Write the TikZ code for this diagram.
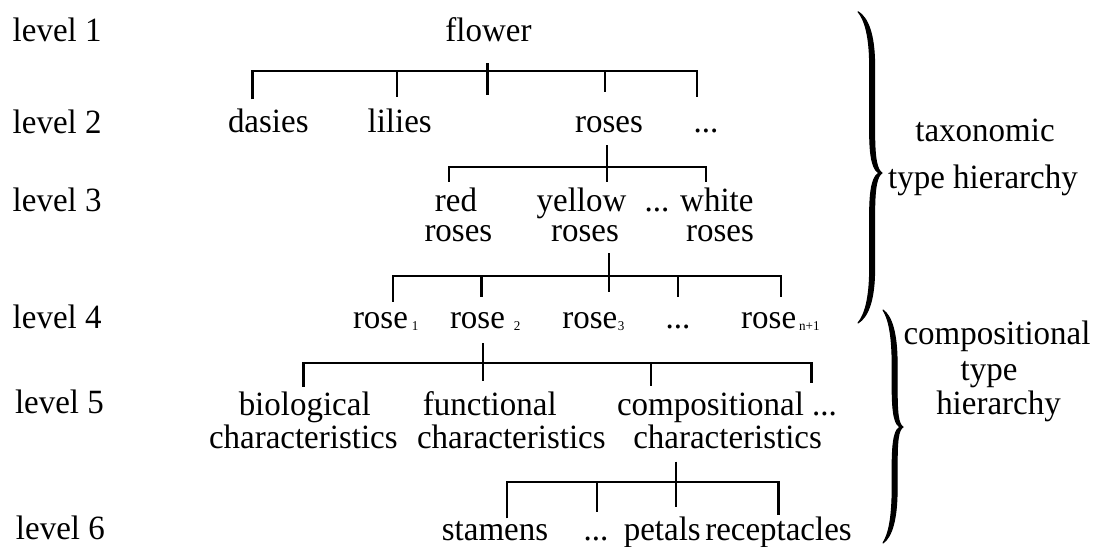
\documentclass[tikz,border=0pt]{standalone}
\usepackage{fontspec}
\setmainfont{Liberation Serif}[FakeStretch=0.97]

% right curly brace as a filled, tapered outline
% #1 end x, #2 top y, #3 tip y, #4 bottom y, #5 body offset, #6 tip offset
\newcommand\rbr[6]{%
  \filldraw[bracefill]
  (#1,#2)
  .. controls ({#1+0.55*#5+2},{#2+6}) and ({#1+#5+2.6},{#2+22}) .. ({#1+#5+2.6},{#2+55})
  -- ({#1+#5+2.6},{#3-40})
  .. controls ({#1+#5+2.6},{#3-14}) and ({#1+#6-5},{#3-3}) .. ({#1+#6},{#3})
  .. controls ({#1+#6-5},{#3+3}) and ({#1+#5+2.6},{#3+14}) .. ({#1+#5+2.6},{#3+40})
  -- ({#1+#5+2.6},{#4-55})
  .. controls ({#1+#5+2.6},{#4-22}) and ({#1+0.55*#5+2},{#4-6}) .. (#1,#4)
  .. controls ({#1+0.55*#5-1},{#4-8}) and ({#1+#5-2.3},{#4-24}) .. ({#1+#5-2.3},{#4-55})
  -- ({#1+#5-2.3},{#3+40})
  .. controls ({#1+#5-2.3},{#3+12}) and ({#1+#6-8},{#3+1}) .. ({#1+#6-2},{#3})
  .. controls ({#1+#6-8},{#3-1}) and ({#1+#5-2.3},{#3-12}) .. ({#1+#5-2.3},{#3-40})
  -- ({#1+#5-2.3},{#2+55})
  .. controls ({#1+#5-2.3},{#2+24}) and ({#1+0.55*#5-1},{#2+8}) .. (#1,#2) -- cycle;}

\begin{document}
\begin{tikzpicture}[x=1pt,y=-1pt,
  lbl/.style={inner sep=0pt, outer sep=0pt, anchor=base,
              text height=23pt, text depth=6.5pt,
              font=\fontsize{34}{40}\selectfont},
  lvl/.style={lbl, anchor=base west},
  link/.style={line width=2.4pt, line join=miter},
  bracefill/.style={fill=black, draw=black, line width=1.1pt, line join=round}]
\useasboundingbox (0,0) rectangle (1094,546);

\newcommand\sub[1]{\raisebox{-1.7pt}{\fontsize{13.5}{14}\selectfont #1}}

% level captions
\node[lvl] (lv1) at (12.7,41.7)  {level 1};
\node[lvl] (lv2) at (12.7,133)   {level 2};
\node[lvl] (lv3) at (12.7,211.7) {level 3};
\node[lvl] (lv4) at (12.7,328)   {level 4};
\node[lvl] (lv5) at (15,413)     {level 5};
\node[lvl] (lv6) at (16,539.7)   {level 6};

% level 1
\node[lbl] (flower) at (488.5,41.7) {flower};

% level 2
\node[lbl] (dasies) at (268.3,132.5) {dasies};
\node[lbl] (lilies) at (399.7,132.5) {lilies};
\node[lbl] (roses)  at (609,132.5)   {roses};
\node[lbl] (dots2)  at (706,132.5)   {...};

% level 3
\node[lbl] (redA)    at (456,211.7)   {red};
\node[lbl] (redB)    at (458.4,241.7) {roses};
\node[lbl] (yellowA) at (581.5,211.7) {yellow};
\node[lbl] (yellowB) at (585,241.7)   {roses};
\node[lbl] (whiteA)  at (699,211.7)   {... white};
\node[lbl] (whiteB)  at (720,241.7)   {roses};

% level 4
\node[lvl] (rose1) at (353,328.3)   {rose\kern4pt\sub{1}};
\node[lvl] (rose2) at (450,328.3)   {rose\kern9pt\sub{2}};
\node[lvl] (rose3) at (562.4,328.3) {rose\kern0.5pt\sub{3}};
\node[lbl] (dots4) at (677.9,328.3) {...};
\node[lvl] (rosen) at (741.2,328.3) {rose\kern3pt\sub{n+1}};

% level 5
\node[lbl] (bioA)  at (304.7,415)   {biological};
\node[lbl] (bioB)  at (303.3,448.3) {characteristics};
\node[lbl] (funA)  at (489.8,415)   {functional};
\node[lbl] (funB)  at (511.3,448.3) {characteristics};
\node[lbl] (comA)  at (727,415)     {compositional ...};
\node[lbl] (comB)  at (727.6,448.3) {characteristics};

% level 6
\node[lbl] (stamens) at (495,540)   {stamens};
\node[lbl] (dots6)   at (596,540)   {...};
\node[lbl] (petals)  at (662.3,540) {petals};
\node[lbl] (recept)  at (778.5,540) {receptacles};

% hierarchy names
\node[lbl] (taxA) at (985,141.7)  {taxonomic};
\node[lbl] (taxB) at (983,188.3)  {type hierarchy};
\node[lbl] (cmpA) at (997,344)    {compositional};
\node[lbl] (cmpB) at (989,380)    {type};
\node[lbl] (cmpC) at (998.5,414)  {hierarchy};

% bracket under flower
\coordinate (b1) at (0,70.7);
\coordinate (s1a) at (487.5,63.3);  \coordinate (s1b) at (487.5,95);
\coordinate (t11) at (252.5,99.3);  \coordinate (t12) at (397,96.7);
\coordinate (t13) at (604.7,91.7);  \coordinate (t14) at (697.2,97.3);
\draw[link] (t11) -- (t11 |- b1) -- (t14 |- b1) -- (t14);
\draw[link] (t12 |- b1) -- (t12);
\draw[link] (t13 |- b1) -- (t13);
\draw[link] (s1a) -- (s1b);

% bracket under roses
\coordinate (b2) at (0,166.7);
\coordinate (s2a) at (607,145);     \coordinate (s2b) at (607,181.7);
\coordinate (t21) at (449,181.7);   \coordinate (t22) at (706,181.7);
\draw[link] (t21) -- (t21 |- b2) -- (t22 |- b2) -- (t22);
\draw[link] (s2a) -- (s2b);

% bracket under yellow roses
\coordinate (b3) at (0,276);
\coordinate (s3a) at (608.7,253.3); \coordinate (s3b) at (608.7,291.7);
\coordinate (t31) at (393,301.7);   \coordinate (t32) at (481.3,296.7);
\coordinate (t33) at (678,296.7);   \coordinate (t34) at (781.2,296.7);
\draw[link] (t31) -- (t31 |- b3) -- (t34 |- b3) -- (t34);
\draw[link] (t32 |- b3) -- (t32);
\draw[link] (t33 |- b3) -- (t33);
\draw[link] (s3a) -- (s3b);

% bracket under rose 2
\coordinate (b4) at (0,362.7);
\coordinate (s4a) at (483,343.3);   \coordinate (s4b) at (483,380.7);
\coordinate (t41) at (303.6,386.7); \coordinate (t42) at (651,386);
\coordinate (t43) at (811.5,383.3);
\draw[link] (t41) -- (t41 |- b4) -- (t43 |- b4) -- (t43);
\draw[link] (t42 |- b4) -- (t42);
\draw[link] (s4a) -- (s4b);

% bracket under compositional characteristics
\coordinate (b5) at (0,481.7);
\coordinate (s5a) at (676,461.7);   \coordinate (s5b) at (676,506.7);
\coordinate (t51) at (506.8,518.3); \coordinate (t52) at (597.2,511.7);
\coordinate (t53) at (778.4,515);
\draw[link] (t51) -- (t51 |- b5) -- (t53 |- b5) -- (t53);
\draw[link] (t52 |- b5) -- (t52);
\draw[link] (s5a) -- (s5b);

% braces
\rbr{858}{11.7}{173}{323}{14}{24}
\rbr{883}{310}{427}{543}{11.5}{20}
\end{tikzpicture}
\end{document}
